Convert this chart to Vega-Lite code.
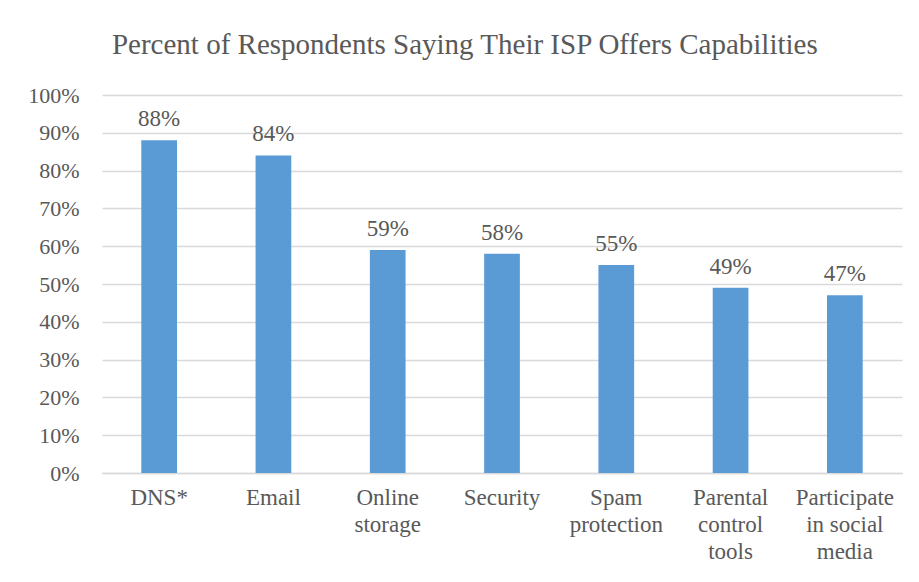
{
  "$schema": "https://vega.github.io/schema/vega-lite/v6.json",
  "autosize": {"type": "none"},
  "width": 800,
  "height": 378,
  "padding": {"left": 102, "top": 95, "right": 17, "bottom": 109},
  "background": "white",
  "title": {
    "text": "Percent of Respondents Saying Their ISP Offers Capabilities",
    "font": "Times New Roman, Liberation Serif, serif",
    "fontSize": 29,
    "fontWeight": "normal",
    "color": "#595959",
    "anchor": "middle",
    "frame": "bounds",
    "offset": 24
  },
  "data": {
    "values": [
      {"capability": "DNS*", "pct": 0.88},
      {"capability": "Email", "pct": 0.84},
      {"capability": "Online storage", "pct": 0.59},
      {"capability": "Security", "pct": 0.58},
      {"capability": "Spam protection", "pct": 0.55},
      {"capability": "Parental control tools", "pct": 0.49},
      {"capability": "Participate in social media", "pct": 0.47}
    ]
  },
  "encoding": {
    "x": {
      "field": "capability",
      "type": "nominal",
      "sort": null,
      "scale": {"paddingInner": 0.6875, "paddingOuter": 0.34375},
      "axis": {
        "title": null,
        "labelAngle": 0,
        "labelFont": "Times New Roman, Liberation Serif, serif",
        "labelFontSize": 23,
        "labelColor": "#595959",
        "labelPadding": 13,
        "labelLineHeight": 27,
        "ticks": false,
        "domain": true,
        "domainColor": "#d9d9d9",
        "domainWidth": 1.5,
        "labelOverlap": false,
        "labelExpr": "datum.value == 'Online storage' ? ['Online','storage'] : datum.value == 'Spam protection' ? ['Spam','protection'] : datum.value == 'Parental control tools' ? ['Parental','control','tools'] : datum.value == 'Participate in social media' ? ['Participate','in social','media'] : datum.value"
      }
    },
    "y": {
      "field": "pct",
      "type": "quantitative",
      "scale": {"domain": [0, 1]},
      "axis": {
        "title": null,
        "format": ".0%",
        "values": [0, 0.1, 0.2, 0.3, 0.4, 0.5, 0.6, 0.7, 0.8, 0.9, 1],
        "labelFont": "Times New Roman, Liberation Serif, serif",
        "labelFontSize": 22,
        "labelColor": "#595959",
        "labelPadding": 23,
        "labelOverlap": false,
        "ticks": false,
        "domain": false,
        "grid": true,
        "gridColor": "#d9d9d9",
        "gridWidth": 1.5
      }
    }
  },
  "layer": [
    {"mark": {"type": "bar", "color": "#5b9bd5"}},
    {
      "mark": {
        "type": "text",
        "baseline": "alphabetic",
        "dy": -14,
        "font": "Times New Roman, Liberation Serif, serif",
        "fontSize": 23,
        "color": "#595959"
      },
      "encoding": {"text": {"field": "pct", "type": "quantitative", "format": ".0%"}}
    }
  ],
  "config": {"view": {"stroke": null}}
}
